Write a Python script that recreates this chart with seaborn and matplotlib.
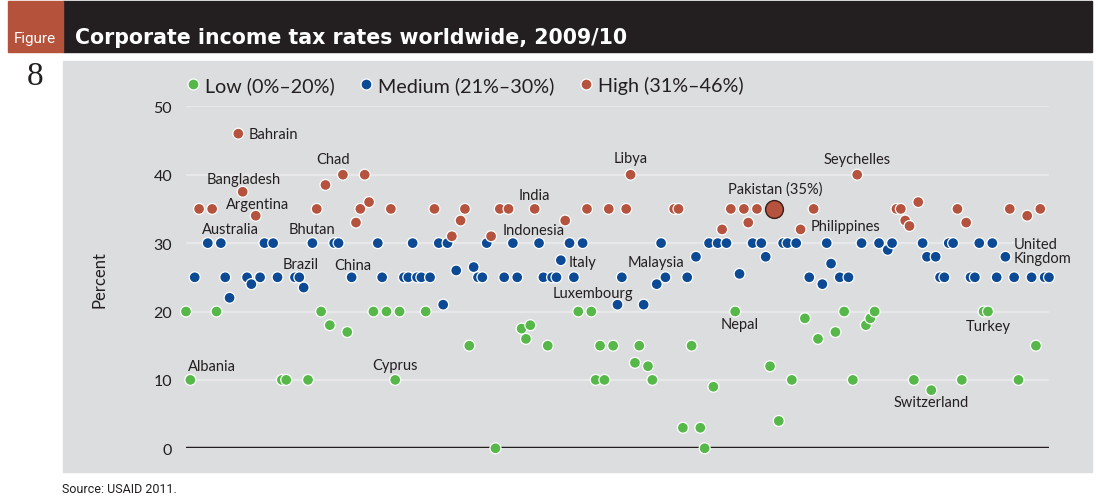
import matplotlib
matplotlib.use("Agg")
import matplotlib.pyplot as plt
import seaborn as sns
import pandas as pd
from matplotlib.patches import Rectangle

# ------------------------------------------------------------------
# data (countries in alphabetical order -> position)
# ------------------------------------------------------------------
country_pos = [
    0, 1, 2, 3, 5, 6, 7, 8, 9, 10, 12, 13, 14, 15, 16, 17, 18, 20, 21, 22,
    23, 25, 26, 27, 28, 29, 30, 31, 32, 33, 34, 35, 36, 37, 38, 39, 40, 41, 42, 43,
    44, 45, 46, 47, 48, 49, 50, 51, 52, 53, 54, 55, 56, 57, 58, 59, 60, 61, 62, 63,
    64, 65, 66, 67, 68, 69, 70, 71, 72, 73, 74, 75, 76, 77, 78, 79, 80, 81, 82, 83,
    84, 85, 86, 87, 88, 89, 90, 91, 92, 93, 94, 95, 96, 97, 98, 99, 100, 101, 102, 103,
    104, 105, 106, 107, 108, 109, 110, 112, 113, 114, 115, 116, 117, 118, 119, 120, 121, 122, 123, 124,
    125, 126, 127, 128, 129, 130, 131, 132, 133, 134, 135, 136, 137, 138, 139, 140, 141, 142, 143, 144,
    145, 146, 147, 148, 149, 150, 151, 152, 153, 154, 155, 156, 157, 158, 159, 161, 162, 163, 164, 165,
    166, 167, 168, 169, 170, 171, 172, 173, 174, 175, 176, 177, 178, 179, 180, 181, 182, 183, 184, 185,
    186, 188, 189, 190, 191, 193, 194, 195, 196, 197, 198,
]
tax_rate = [
    20, 10, 25, 35, 30, 35, 20, 30, 25, 22, 46, 37.5, 25, 24, 34, 25, 30, 30, 25, 10,
    10, 25, 25, 23.5, 10, 30, 35, 20, 38.5, 18, 30, 30, 40, 17, 25, 33, 35, 40, 36, 20,
    30, 25, 20, 35, 10, 20, 25, 25, 30, 25, 25, 20, 25, 35, 30, 21, 30, 31, 26, 33.3,
    35, 15, 26.5, 25, 25, 30, 31, 0, 35, 25, 35, 30, 25, 17.5, 16, 18, 35, 30, 25, 15,
    25, 25, 27.5, 33.3, 30, 25, 20, 30, 35, 20, 10, 15, 10, 35, 15, 21, 25, 35, 40, 12.5,
    15, 21, 12, 10, 24, 30, 25, 35, 35, 3, 25, 15, 28, 3, 0, 30, 9, 30, 32, 30,
    35, 20, 25.5, 35, 33, 30, 35, 30, 28, 12, 35, 4, 30, 30, 10, 30, 32, 19, 25, 35,
    16, 24, 30, 27, 17, 25, 20, 25, 10, 40, 30, 18, 19, 20, 30, 29, 30, 35, 35, 33.3,
    32.5, 10, 36, 30, 28, 8.5, 28, 25, 25, 30, 30, 35, 10, 33, 25, 25, 30, 20, 20, 30,
    25, 28, 35, 25, 10, 34, 25, 15, 35, 25, 25,
]

# Pakistan is highlighted
highlight_pos = 135

label_names = [
    "Albania", "Bahrain", "Bangladesh", "Argentina", "Australia", "Bhutan", "Brazil",
    "Chad", "China", "Cyprus", "India", "Indonesia", "Italy", "Luxembourg", "Libya",
    "Malaysia", "Nepal", "Pakistan (35%)", "Philippines", "Seychelles", "Switzerland",
    "Turkey", "United\nKingdom",
]
label_pos = [1, 12, 13, 16, 8, 29, 26, 36, 38, 48, 80, 81, 86, 99, 102,
             110, 126, 135, 141, 154, 171, 184, 188]

tier_names = ["Low (0%–20%)", "Medium (21%–30%)", "High (31%–46%)"]
tier_colors = ["#55b848", "#0c4a96", "#b5533e"]
y_ticks = [0, 10, 20, 30, 40, 50]

# label placement: (ha, dx px, dy px)
LABEL_STYLE = {
    "Albania": ("left", -2, 14), "Bahrain": ("left", 10, 0),
    "Bangladesh": ("center", 1, 13), "Argentina": ("center", 2, 12),
    "Australia": ("center", 10, 14), "Bhutan": ("center", 0, 14),
    "Brazil": ("center", 1, 13), "Chad": ("center", -10, 16),
    "China": ("center", 1, 12), "Cyprus": ("center", 0, 15),
    "India": ("center", 0, 14), "Indonesia": ("center", -5, 13),
    "Italy": ("left", 8, -2), "Luxembourg": ("center", -25, 12),
    "Libya": ("center", 0, 17), "Malaysia": ("center", -9, 15),
    "Nepal": ("center", 4, -12), "Pakistan (35%)": ("center", 1, 20),
    "Philippines": ("left", 10, 3), "Seychelles": ("center", 0, 16),
    "Switzerland": ("center", 0, -12), "Turkey": ("center", 0, -14),
    "United\nKingdom": ("left", 8, 6),
}

BG = "#dcdddf"
INK = "#231f20"


def tier_of(r):
    if r <= 20:
        return tier_names[0]
    if r <= 30:
        return tier_names[1]
    return tier_names[2]


def main():
    sns.set_style("white")
    plt.rcParams["font.family"] = ["Lato", "DejaVu Sans"]

    df = pd.DataFrame({"pos": country_pos, "rate": tax_rate})
    df["tier"] = df["rate"].apply(tier_of)
    rate_at = dict(zip(df["pos"], df["rate"]))

    W, H = 1102, 502
    fig = plt.figure(figsize=(W / 100, H / 100), dpi=100)

    # panel + header bar (behind the axes)
    for (x0, y0, x1, y1, col) in [(63, 62, 1092, 473, BG), (63, 2, 1092, 53, INK),
                                  (8, 2, 63, 53, "#b5523b")]:
        fig.patches.append(Rectangle((x0 / W, 1 - y1 / H), (x1 - x0) / W, (y1 - y0) / H,
                                     transform=fig.transFigure, color=col, zorder=-10))

    fig.text(35 / W, 1 - 39 / H, "Figure", color="white", fontsize=11,
             family="Roboto", ha="center", va="center")
    fig.text(75 / W, 1 - 38 / H, "Corporate income tax rates worldwide, 2009/10",
             color="white", fontsize=14.8, fontweight="bold", family="DejaVu Sans",
             ha="left", va="center")
    fig.text(35 / W, 1 - 77 / H, "8", fontsize=24, family="Liberation Serif",
             color=INK, ha="center", va="center")
    fig.text(62 / W, 1 - 490 / H, "Source: USAID 2011.", fontsize=9,
             family="Roboto", color=INK, ha="left", va="center")

    ax = fig.add_axes([186 / W, 1 - 449.3 / H, (1049 - 186) / W, (449.3 - 107.3) / H])
    ax.set_facecolor(BG)

    main_df = df[df["pos"] != highlight_pos]
    sns.scatterplot(data=main_df, x="pos", y="rate", hue="tier", hue_order=tier_names,
                    palette=tier_colors, s=62, edgecolor="white", linewidth=0.9,
                    clip_on=False, zorder=4, ax=ax)
    hl = df[df["pos"] == highlight_pos]
    ax.scatter(hl["pos"], hl["rate"], s=165, color=tier_colors[2], edgecolor="#3a1d16",
               linewidth=1.0, clip_on=False, zorder=5)

    ax.set_xlim(0, 198)
    ax.set_ylim(0, 50)
    ax.set_yticks(y_ticks)
    ax.set_xticks([])
    ax.set_xlabel("")
    ax.set_ylabel("")
    for s in ax.spines.values():
        s.set_visible(False)
    for v in y_ticks[1:]:
        ax.axhline(v, xmax=(1048 - 186) / (1049 - 186), color="#e8e8ea", lw=1.6, zorder=1)
    ax.axhline(0, xmax=(1048 - 186) / (1049 - 186), color=INK, lw=2.5, zorder=2)
    ax.tick_params(axis="y", length=0, pad=10, labelsize=11.5, labelcolor=INK)

    fig.text(100 / W, 1 - 280 / H, "Percent", rotation=90, fontsize=12, color=INK,
             ha="center", va="center")

    for name, p in zip(label_names, label_pos):
        ha, dx, dy = LABEL_STYLE[name]
        ax.annotate(name, (p, rate_at[p]), xytext=(dx * 0.72, dy * 0.72),
                    textcoords="offset points", ha=ha, va="center", fontsize=10.5,
                    color=INK, linespacing=0.95, zorder=6)

    sns.move_legend(ax, "center left", bbox_to_anchor=(179 / W, 1 - 86 / H),
                    bbox_transform=fig.transFigure, ncol=3, title=None, frameon=False,
                    fontsize=14.2, handlelength=0.6, handletextpad=0.3, columnspacing=1.3,
                    borderaxespad=0, labelcolor=INK)

    fig.savefig("out.png", dpi=100, facecolor="white")
    plt.close(fig)


if __name__ == "__main__":
    main()
